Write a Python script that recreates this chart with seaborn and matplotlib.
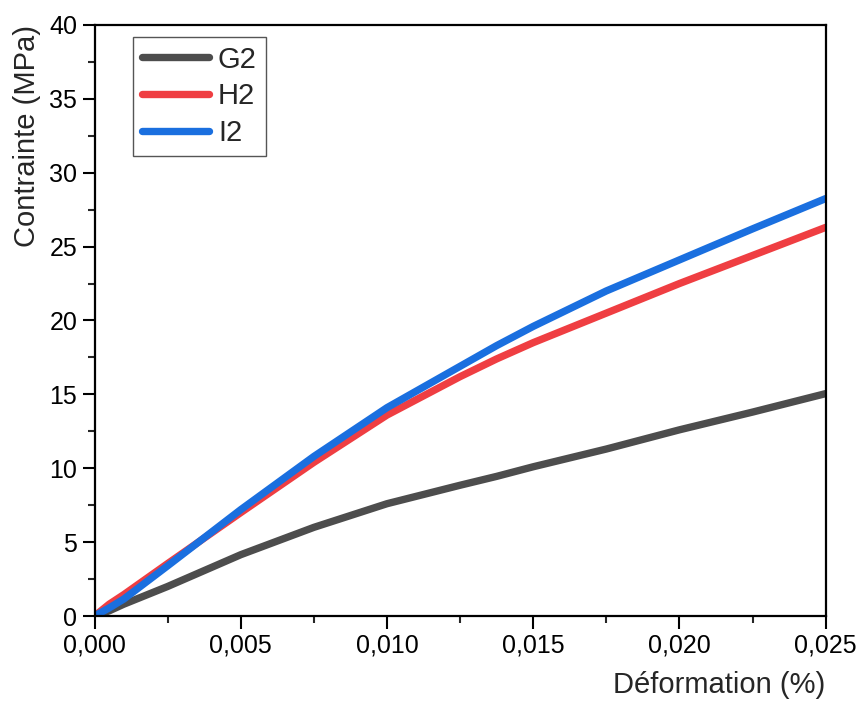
import numpy as np
import pandas as pd
import matplotlib
matplotlib.use('Agg')
import matplotlib.pyplot as plt
import seaborn as sns
from matplotlib.ticker import MultipleLocator, FuncFormatter

# strain (%) and stress (MPa)
strain = [0.0, 0.0005, 0.001, 0.0025, 0.005, 0.0075, 0.010, 0.0125, 0.01375, 0.015, 0.0175, 0.020, 0.0225, 0.025]
g2 = [0.0, 0.35, 0.8, 2.0, 4.15, 6.0, 7.6, 8.85, 9.45, 10.1, 11.3, 12.6, 13.8, 15.05]
h2 = [0.0, 0.8, 1.45, 3.55, 7.0, 10.4, 13.6, 16.2, 17.4, 18.5, 20.5, 22.5, 24.4, 26.3]
i2 = [0.0, 0.55, 1.15, 3.4, 7.2, 10.8, 14.1, 16.9, 18.3, 19.6, 22.0, 24.1, 26.2, 28.25]

colors = {'G2': '#4d4d4d', 'H2': '#ef3e42', 'I2': '#1a6fdf'}

df = pd.DataFrame({'strain': strain * 3,
                   'stress': g2 + h2 + i2,
                   'sample': ['G2'] * len(strain) + ['H2'] * len(strain) + ['I2'] * len(strain)})

sns.set_style('white')
plt.rcParams['font.family'] = ['Liberation Sans', 'DejaVu Sans']

fig = plt.figure(figsize=(8.6, 7.04), dpi=100)
ax = fig.add_axes([0.110, 0.125, 0.850, 0.8395])

sns.lineplot(data=df, x='strain', y='stress', hue='sample', palette=colors,
             linewidth=5.3, ax=ax, sort=False)
for ln in ax.get_lines():
    ln.set_solid_joinstyle('round')

ax.set_xlim(0, 0.025)
ax.set_ylim(0, 40)
ax.xaxis.set_major_locator(MultipleLocator(0.005))
ax.xaxis.set_minor_locator(MultipleLocator(0.0025))
ax.yaxis.set_major_locator(MultipleLocator(5))
ax.yaxis.set_minor_locator(MultipleLocator(2.5))
ax.xaxis.set_major_formatter(FuncFormatter(lambda v, p: f'{v:.3f}'.replace('.', ',')))
ax.yaxis.set_major_formatter(FuncFormatter(lambda v, p: f'{v:.0f}'))

ax.tick_params(which='major', direction='out', length=9, width=1.5, labelsize=18,
               bottom=True, left=True, top=False, right=False, colors='black')
ax.tick_params(which='minor', direction='out', length=5, width=1.5,
               bottom=True, left=True, top=False, right=False)
for s in ax.spines.values():
    s.set_color('black')
    s.set_linewidth(1.6)

ax.set_xlabel('Déformation (%)', fontsize=21, loc='right', labelpad=10)
ax.set_ylabel('Contrainte (MPa)', fontsize=21, loc='top', labelpad=6)

leg = ax.legend(loc='upper left', bbox_to_anchor=(0.053, 0.98), fontsize=21,
                handlelength=2.3, handletextpad=0.3, borderpad=0.3, labelspacing=0.3,
                borderaxespad=0, fancybox=False, framealpha=1, title=None)
leg.get_frame().set_edgecolor('#555555')
leg.get_frame().set_linewidth(1.0)
for h in leg.get_lines():
    h.set_linewidth(5.3)

fig.savefig('out.png', dpi=100)
